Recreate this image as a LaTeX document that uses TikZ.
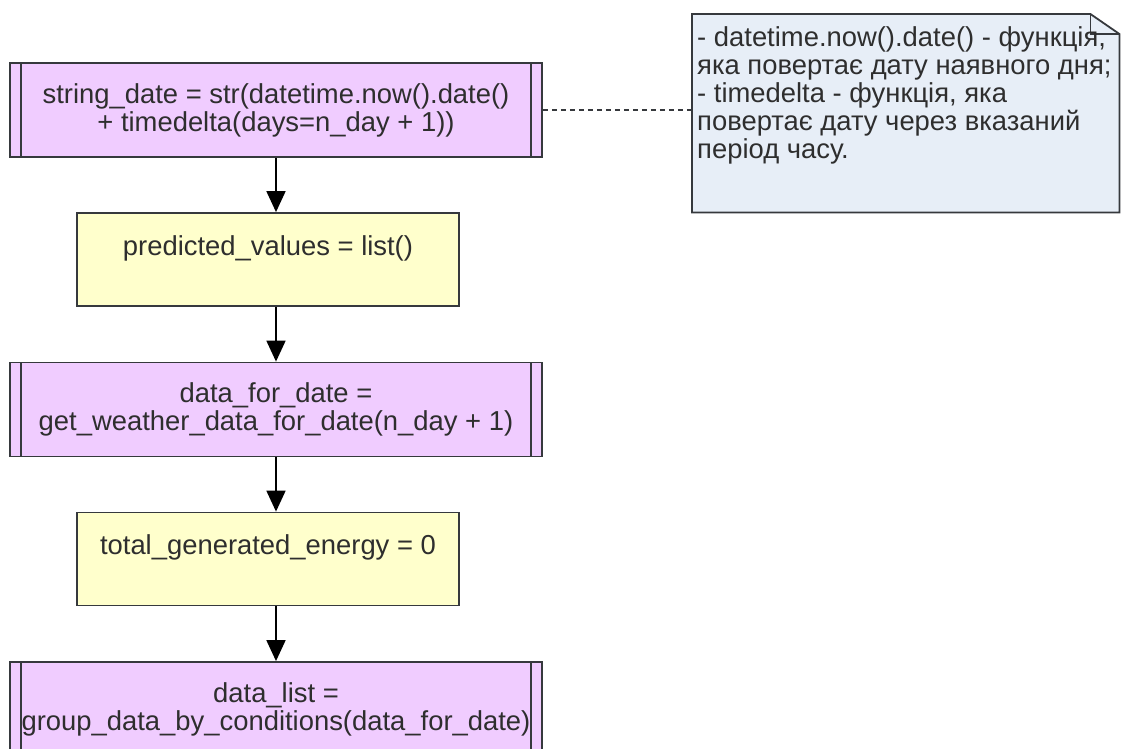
\documentclass[tikz,border=0pt]{standalone}
\usepackage{fontspec}
\setmainfont{Liberation Sans}
\usepackage{tikz}
\usetikzlibrary{arrows.meta}
\definecolor{procpurple}{HTML}{F0CCFF}
\definecolor{assignyellow}{HTML}{FFFFCC}
\definecolor{noteblue}{HTML}{E7EEF7}
\definecolor{edgegray}{HTML}{36393D}

\begin{document}
\begin{tikzpicture}[
    x=1pt, y=-1pt,
    every node/.style={font=\fontsize{27.4pt}{28pt}\selectfont, text=black!82, inner sep=0pt},
    boxbase/.style={rectangle, draw=edgegray, line width=1.8pt, align=center},
    procbox/.style={boxbase, fill=procpurple, minimum width=532pt, minimum height=94pt,
        path picture={\draw[edgegray, line width=1.8pt]
            ([xshift=11pt]path picture bounding box.north west) -- ([xshift=11pt]path picture bounding box.south west)
            ([xshift=-11pt]path picture bounding box.north east) -- ([xshift=-11pt]path picture bounding box.south east);}},
    assignbox/.style={boxbase, fill=assignyellow, minimum width=382pt, minimum height=93pt},
    notebox/.style={anchor=north west, minimum width=427pt, minimum height=198pt},
    flowarrow/.style={black, line width=1.8pt, -{Triangle[width=19pt,length=21pt]}}
]
\clip (0,0) rectangle (1121,749);

% flow of the prediction
\node[procbox] (b1) at (276,110) {string\_date = str(datetime.now().date()\\+ timedelta(days=n\_day + 1))};
\node[assignbox] (b2) at (268,259.5) {predicted\_values = list()\\\mbox{}};
\node[procbox] (b3) at (276,409.5) {data\_for\_date =\\get\_weather\_data\_for\_date(n\_day + 1)};
\node[assignbox] (b4) at (268,559) {total\_generated\_energy = 0\\\mbox{}};
\node[procbox] (b5) at (276,709) {data\_list =\\group\_data\_by\_conditions(data\_for\_date)};

\draw[flowarrow] (b1.south) -- (b1.south |- b2.north);
\draw[flowarrow] (b1.south |- b2.south) -- (b3.north);
\draw[flowarrow] (b3.south) -- (b3.south |- b4.north);
\draw[flowarrow] (b3.south |- b4.south) -- (b5.north);

% comment note
\node[notebox] (note) at (692,14) {};
\draw[edgegray, fill=noteblue, line width=1.8pt] (note.north west) -- ([xshift=-29pt]note.north east)
    -- ([yshift=-20pt]note.north east) -- (note.south east) -- (note.south west) -- cycle;
\draw[edgegray, line width=1.8pt] ([xshift=-29pt]note.north east) |- ([yshift=-20pt]note.north east);
\node[anchor=north west, align=left] (notetext) at ([xshift=5pt,yshift=-12pt]note.north west)
    {- datetime.now().date() - функція,\\яка повертає дату наявного дня;\\- timedelta - функція, яка\\повертає дату через вказаний\\період часу.};

\draw[edgegray, line width=1.8pt, dash pattern=on 5pt off 4pt] (b1.east) -- (b1.east -| note.west);
\end{tikzpicture}
\end{document}
